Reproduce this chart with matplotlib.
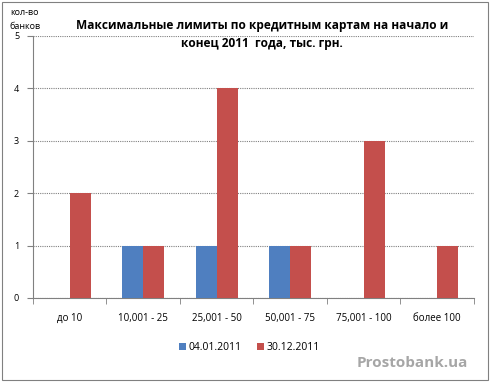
import matplotlib.pyplot as plt
import numpy as np
from matplotlib.patches import Rectangle

plt.rcParams['font.family'] = ['Open Sans', 'DejaVu Sans']

categories = ['до 10', '10,001 - 25', '25,001 - 50', '50,001 - 75', '75,001 - 100', 'более 100']
start_2011 = [0, 1, 1, 1, 0, 0]
end_2011 = [2, 1, 4, 1, 3, 1]
series_names = ['04.01.2011', '30.12.2011']

fig = plt.figure(figsize=(4.9, 3.82), dpi=100)
ax = fig.add_axes([0.0673, 0.2199, 0.9, 0.6859])

x = np.arange(len(categories))
w = 0.285
ax.bar(x - w / 2, start_2011, w, color='#4F7FC0', label=series_names[0], zorder=3)
ax.bar(x + w / 2, end_2011, w, color='#C44F4C', label=series_names[1], zorder=3)

ax.set_xlim(-0.5, len(categories) - 0.5)
ax.set_ylim(0, 5)
ax.set_yticks(range(6))
ax.set_xticks(x)
ax.set_xticklabels(categories, fontsize=7)
ax.set_xticks(np.arange(-0.5, len(categories)), minor=True)
ax.tick_params(axis='x', which='major', length=0, pad=11)
ax.tick_params(axis='x', which='minor', length=4, color='#808080', direction='out')
ax.tick_params(axis='y', labelsize=6.5, length=4, color='#808080', pad=6)
ax.yaxis.grid(True, linestyle=(0, (1, 1)), color='#808080', linewidth=0.8, zorder=0)

for s in ['top', 'right']:
    ax.spines[s].set_visible(False)
for s in ['left', 'bottom']:
    ax.spines[s].set_color('#808080')

fig.text(0.535, 0.91, 'Максимальные лимиты по кредитным картам на начало и\nконец 2011  года, тыс. грн.',
         ha='center', va='center', fontsize=8.6, fontweight='bold', linespacing=1.55)
fig.text(0.05, 0.95, 'кол-во\nбанков', ha='center', va='center', fontsize=6.5, linespacing=1.7)

ax.legend(loc='center', bbox_to_anchor=(0.49, -0.19), ncol=2, frameon=False, fontsize=7.5,
          handlelength=0.7, handleheight=0.7, handletextpad=0.2, columnspacing=1.5)

fig.text(0.955, 0.05, 'Prostobank.ua', ha='right', va='center', fontsize=11, fontweight='bold', color='#A6A6A6')

fig.patches.append(Rectangle((0.004, 0.004), 0.992, 0.992, transform=fig.transFigure,
                             fill=False, edgecolor='#808080', linewidth=0.8))

fig.savefig('out.png', dpi=100)
